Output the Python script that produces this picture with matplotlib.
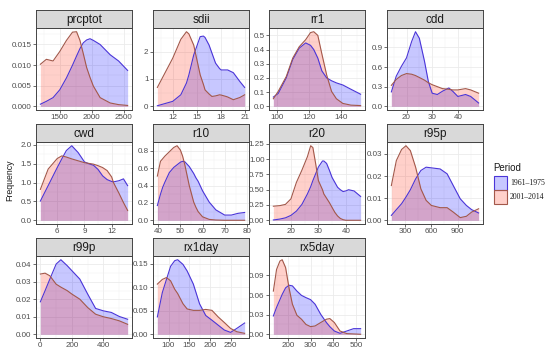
import matplotlib.pyplot as plt
from matplotlib.patches import Rectangle
from matplotlib.ticker import FixedLocator

plt.rcParams['font.family'] = ['Liberation Sans', 'DejaVu Sans']

# Density curves (x grid, 1961-1975, 2001-2014)
prcptot_x = [1196, 1290, 1395, 1500, 1605, 1700, 1763, 1816, 1868, 1921, 1974, 2026, 2132, 2290, 2421, 2563]
prcptot_1961 = [0.0005, 0.0012, 0.0021, 0.0040, 0.0069, 0.0100, 0.0122, 0.0140, 0.0154, 0.0161, 0.0164, 0.0160, 0.0150, 0.0125, 0.0110, 0.0087]
prcptot_2001 = [0.0102, 0.0114, 0.0110, 0.0133, 0.0160, 0.0180, 0.0181, 0.0160, 0.0128, 0.0094, 0.0070, 0.0049, 0.0021, 0.0008, 0.0004, 0.0002]

sdii_x = [10.1, 12.0, 13.0, 13.7, 14.0, 14.6, 15.4, 15.8, 16.0, 16.5, 16.85, 17.3, 17.8, 18.0, 18.6, 18.8, 19.5, 20.3, 20.9]
sdii_1961 = [0.02, 0.18, 0.42, 0.85, 1.15, 1.88, 2.55, 2.57, 2.52, 2.24, 1.95, 1.58, 1.38, 1.33, 1.33, 1.33, 1.23, 0.91, 0.69]
sdii_2001 = [0.69, 1.76, 2.45, 2.73, 2.65, 2.24, 1.15, 0.8, 0.6, 0.45, 0.36, 0.38, 0.42, 0.41, 0.36, 0.34, 0.24, 0.32, 0.42]

rr1_x = [98, 101, 106, 110, 114, 118, 121, 123, 125.5, 128, 131, 134, 137, 141, 146, 152]
rr1_1961 = [0.065, 0.09, 0.20, 0.33, 0.41, 0.447, 0.43, 0.40, 0.34, 0.25, 0.20, 0.18, 0.165, 0.15, 0.12, 0.085]
rr1_2001 = [0.053, 0.105, 0.21, 0.34, 0.42, 0.47, 0.52, 0.526, 0.50, 0.37, 0.22, 0.105, 0.053, 0.02, 0.008, 0.005]

cdd_x = [14.1, 16, 18, 20, 22, 23.5, 25, 27, 28.5, 30, 32, 34, 36.5, 38, 40, 43, 45, 48.1]
cdd_1961 = [0.22, 0.46, 0.61, 0.74, 0.99, 1.14, 1.04, 0.69, 0.38, 0.20, 0.18, 0.23, 0.28, 0.23, 0.15, 0.18, 0.15, 0.05]
cdd_2001 = [0.32, 0.41, 0.47, 0.50, 0.49, 0.47, 0.44, 0.40, 0.36, 0.33, 0.30, 0.27, 0.26, 0.25, 0.25, 0.27, 0.25, 0.20]

cwd_x = [4.14, 5.0, 6.0, 6.5, 7.0, 7.6, 8.3, 9.0, 9.5, 10.0, 10.5, 11.0, 11.5, 12.0, 12.2, 12.8, 13.3, 13.76]
cwd_1961 = [0.51, 0.92, 1.40, 1.63, 1.85, 1.98, 1.80, 1.55, 1.50, 1.46, 1.35, 1.18, 1.08, 1.03, 1.02, 1.05, 1.10, 0.92]
cwd_2001 = [0.82, 1.36, 1.64, 1.71, 1.68, 1.63, 1.58, 1.53, 1.51, 1.49, 1.45, 1.40, 1.32, 1.15, 1.00, 0.72, 0.47, 0.26]

r10_x = [39.6, 41, 42, 43, 45, 47, 48.5, 50, 51, 52, 54, 56, 57, 58, 60, 63, 66, 70, 73, 76, 79]
r10_1961 = [0.17, 0.30, 0.38, 0.44, 0.55, 0.61, 0.64, 0.67, 0.68, 0.675, 0.62, 0.54, 0.49, 0.45, 0.34, 0.21, 0.12, 0.06, 0.06, 0.08, 0.09]
r10_2001 = [0.51, 0.68, 0.71, 0.74, 0.79, 0.84, 0.86, 0.81, 0.74, 0.64, 0.40, 0.21, 0.15, 0.10, 0.04, 0.01, 0.003, 0.0, 0.0, 0.0, 0.0]

r20_x = [13.6, 16, 18, 20, 22, 24, 26, 27.2, 28, 29, 30, 31.5, 32, 33, 34, 35, 36, 37, 38, 39, 40, 41, 43, 45.4]
r20_1961 = [0.005, 0.02, 0.04, 0.08, 0.15, 0.26, 0.43, 0.55, 0.65, 0.76, 0.87, 0.97, 0.97, 0.93, 0.82, 0.70, 0.62, 0.54, 0.50, 0.47, 0.48, 0.50, 0.48, 0.39]
r20_2001 = [0.23, 0.24, 0.26, 0.35, 0.62, 0.82, 1.04, 1.22, 1.19, 0.93, 0.65, 0.50, 0.43, 0.36, 0.29, 0.21, 0.13, 0.07, 0.03, 0.01, 0.0, 0.0, 0.0, 0.0]

r95p_x = [143, 200, 260, 310, 360, 420, 480, 540, 600, 700, 780, 850, 930, 1000, 1060, 1140]
r95p_1961 = [0.0022, 0.0048, 0.0075, 0.0105, 0.0138, 0.0187, 0.0225, 0.0240, 0.0237, 0.0232, 0.0210, 0.0157, 0.0097, 0.0067, 0.0048, 0.0033]
r95p_2001 = [0.0157, 0.0270, 0.0320, 0.0337, 0.0315, 0.0240, 0.0142, 0.0090, 0.0067, 0.0057, 0.0057, 0.0037, 0.0012, 0.0018, 0.0037, 0.0052]

r99p_x = [0, 30, 60, 100, 130, 170, 200, 250, 300, 350, 400, 450, 500, 553]
r99p_1961 = [0.0186, 0.0250, 0.0316, 0.0402, 0.0427, 0.0393, 0.0364, 0.0316, 0.0230, 0.0148, 0.0134, 0.0125, 0.0102, 0.0086]
r99p_2001 = [0.0345, 0.0350, 0.0335, 0.0287, 0.0270, 0.0250, 0.0230, 0.0201, 0.0153, 0.0115, 0.0100, 0.0090, 0.0077, 0.0057]

rx1day_x = [73, 85, 95, 105, 115, 122, 135, 145, 160, 175, 190, 205, 220, 235, 250, 265, 284]
rx1day_1961 = [0.037, 0.089, 0.117, 0.145, 0.157, 0.159, 0.149, 0.135, 0.107, 0.065, 0.040, 0.030, 0.0195, 0.009, 0.004, 0.0125, 0.024]
rx1day_2001 = [0.107, 0.117, 0.121, 0.114, 0.096, 0.087, 0.065, 0.054, 0.051, 0.051, 0.053, 0.051, 0.037, 0.025, 0.0125, 0.0055, 0.002]

rx5day_x = [136, 150, 165, 175, 190, 205, 220, 240, 260, 280, 300, 320, 345, 370, 385, 405, 430, 460, 490, 521]
rx5day_1961 = [0.028, 0.041, 0.053, 0.061, 0.071, 0.075, 0.074, 0.066, 0.0595, 0.056, 0.053, 0.046, 0.0305, 0.018, 0.0117, 0.005, 0.0015, 0.005, 0.0086, 0.0086]
rx5day_2001 = [0.066, 0.099, 0.112, 0.114, 0.102, 0.071, 0.046, 0.029, 0.023, 0.015, 0.0117, 0.0127, 0.018, 0.023, 0.024, 0.018, 0.005, 0.001, 0.0005, 0.0]

panel_names = ['prcptot', 'sdii', 'rr1', 'cdd', 'cwd', 'r10', 'r20', 'r95p', 'r99p', 'rx1day', 'rx5day']
periods = ['1961\u20131975', '2001\u20132014']

# tick positions and label formats per panel
x_ticks = {
    'prcptot': [1500, 2000, 2500], 'sdii': [12, 15, 18, 21], 'rr1': [100, 120, 140],
    'cdd': [20, 30, 40], 'cwd': [6, 9, 12], 'r10': [40, 50, 60, 70, 80],
    'r20': [20, 30, 40], 'r95p': [300, 600, 900], 'r99p': [0, 200, 400],
    'rx1day': [100, 150, 200, 250], 'rx5day': [200, 300, 400, 500],
}
y_ticks = {
    'prcptot': ([0, 0.005, 0.010, 0.015], '{:.3f}'), 'sdii': ([0, 1, 2], '{:.0f}'),
    'rr1': ([0, 0.1, 0.2, 0.3, 0.4, 0.5], '{:.1f}'), 'cdd': ([0, 0.3, 0.6, 0.9], '{:.1f}'),
    'cwd': ([0, 0.5, 1.0, 1.5, 2.0], '{:.1f}'), 'r10': ([0, 0.2, 0.4, 0.6, 0.8], '{:.1f}'),
    'r20': ([0, 0.25, 0.5, 0.75, 1.0, 1.25], '{:.2f}'), 'r95p': ([0, 0.01, 0.02, 0.03], '{:.2f}'),
    'r99p': ([0, 0.01, 0.02, 0.03, 0.04], '{:.2f}'), 'rx1day': ([0, 0.05, 0.10, 0.15], '{:.2f}'),
    'rx5day': ([0, 0.03, 0.06, 0.09], '{:.2f}'),
}

data = {name: (globals()[name + '_x'], globals()[name + '_1961'], globals()[name + '_2001'])
        for name in panel_names}

BLUE_FILL, BLUE_LINE = '#0000ff', '#4a35d8'
RED_FILL, RED_LINE = '#ff2a10', '#a3584a'
FILL_ALPHA = 0.22
W, H = 550, 357

fig = plt.figure(figsize=(5.5, 3.57), dpi=100)

col_left = [36, 153, 269, 387]
col_width = 96
row_top = [28, 142, 256]
panel_h = 82
strip_h = 18

for i, name in enumerate(panel_names):
    r, c = divmod(i, 4)
    x0 = col_left[c] / W
    y0 = 1 - (row_top[r] + panel_h) / H
    ax = fig.add_axes([x0, y0, col_width / W, panel_h / H])
    xs, y1961, y2001 = data[name]

    ax.fill_between(xs, 0, y1961, color=BLUE_FILL, alpha=FILL_ALPHA, linewidth=0)
    ax.plot(xs, y1961, color=BLUE_LINE, linewidth=0.8)
    ax.fill_between(xs, 0, y2001, color=RED_FILL, alpha=FILL_ALPHA, linewidth=0)
    ax.plot(xs, y2001, color=RED_LINE, linewidth=0.8)

    # ggplot style 5% expansion
    xr = max(xs) - min(xs)
    ax.set_xlim(min(xs) - 0.05 * xr, max(xs) + 0.05 * xr)
    ymax = max(max(y1961), max(y2001))
    ax.set_ylim(-0.05 * ymax, 1.05 * ymax)

    xt = x_ticks[name]
    yt, fmt = y_ticks[name]
    ax.set_xticks(xt)
    ax.set_yticks(yt)
    ax.set_yticklabels([fmt.format(v) for v in yt])
    step_x = xt[1] - xt[0]
    step_y = yt[1] - yt[0]
    ax.xaxis.set_minor_locator(FixedLocator([xt[0] - step_x / 2] + [v + step_x / 2 for v in xt]))
    ax.yaxis.set_minor_locator(FixedLocator([v + step_y / 2 for v in yt]))
    ax.grid(which='major', color='#ebebeb', linewidth=0.6)
    ax.grid(which='minor', color='#f2f2f2', linewidth=0.35)
    ax.set_axisbelow(True)
    ax.tick_params(which='major', length=2, width=0.5, color='#333333',
                   labelsize=5.8, labelcolor='#4d4d4d', pad=1.2)
    ax.tick_params(which='minor', length=0)
    for sp in ax.spines.values():
        sp.set_color('#444444')
        sp.set_linewidth(0.7)

    # strip on top of each panel
    sax = fig.add_axes([x0, 1 - row_top[r] / H, col_width / W, strip_h / H])
    sax.set_facecolor('#d9d9d9')
    sax.set_xticks([])
    sax.set_yticks([])
    for sp in sax.spines.values():
        sp.set_color('#444444')
        sp.set_linewidth(0.7)
    sax.text(0.5, 0.47, name, ha='center', va='center', fontsize=8.5, color='#1a1a1a',
             transform=sax.transAxes)

fig.text(10 / W, 1 - 180 / H, 'Frequency', rotation=90, ha='center', va='center',
         fontsize=6.3, color='#1a1a1a')

# legend
fig.text(493 / W, 1 - 168 / H, 'Period', ha='left', va='center', fontsize=7, color='#1a1a1a')
key_cols = [(BLUE_FILL, BLUE_LINE), (RED_FILL, RED_LINE)]
for k, label in enumerate(periods):
    top = 176 + 14 * k
    fig.patches.append(Rectangle((494 / W, 1 - (top + 14) / H), 13 / W, 14 / H,
                                 transform=fig.transFigure, facecolor=key_cols[k][0],
                                 alpha=FILL_ALPHA, edgecolor='none'))
    fig.patches.append(Rectangle((494 / W, 1 - (top + 14) / H), 13 / W, 14 / H,
                                 transform=fig.transFigure, facecolor='none',
                                 edgecolor=key_cols[k][1], linewidth=0.8))
    fig.text(510 / W, 1 - (top + 7) / H, label, ha='left', va='center', fontsize=5.6,
             family=['Liberation Serif', 'DejaVu Serif'], color='#1a1a1a')

fig.savefig('out.png', dpi=100)
